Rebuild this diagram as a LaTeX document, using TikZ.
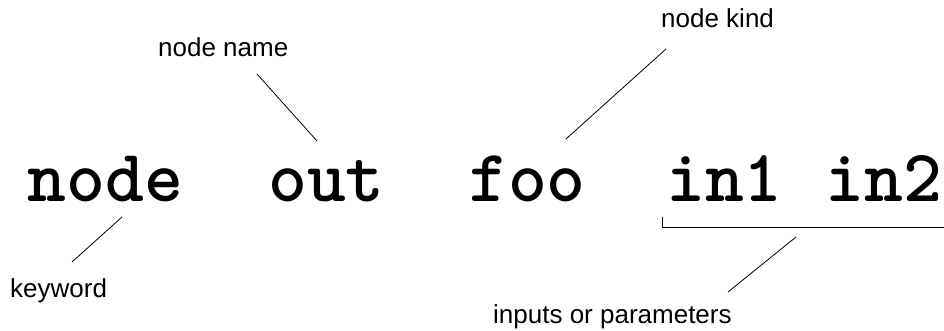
\documentclass[tikz,border=0pt]{standalone}
\usepackage{fontspec}
\newfontfamily\labelfont{Liberation Sans}

\tikzset{
  code/.style={inner sep=0pt,anchor=base,font=\fontsize{74}{74}\selectfont\ttfamily\bfseries},
  note/.style={inner sep=0pt,anchor=base west,font=\fontsize{26}{26}\selectfont\labelfont},
  pointer/.style={line width=0.8pt}
}

\begin{document}
\begin{tikzpicture}[x=1pt,y=1pt]
	\useasboundingbox (0,0) rectangle (944,330);
	% the statement
	\node[code] (kwnode) at (105.5,129) {node};
	\node[code] (outname) at (326.5,129) {out};
	\node[code] (kindfoo) at (527.5,129) {foo};
	\node[code] (inone) at (724.5,129) {in1};
	\node[code] (intwo) at (884,129) {in2};
	% labels
	\node[note] (lblname) at (158,273) {node name};
	\node[note] (lblkind) at (661,302) {node kind};
	\node[note] (lblkw) at (10,33) {keyword};
	\node[note] (lblin) at (493,7) {inputs or parameters};
	% pointer ends
	\coordinate (kwlow) at (72,68);
	\coordinate (kwhigh) at (122,113);
	\coordinate (namehigh) at (257,256);
	\coordinate (namelow) at (317,189);
	\coordinate (kindlow) at (566,191);
	\coordinate (kindhigh) at (666,281);
	\coordinate (inlow) at (728,38);
	\coordinate (inhigh) at (796,93);
	\coordinate (bracetop) at (662,113);
	\coordinate (bracecorner) at (662,103);
	\coordinate (braceend) at (944,103);
	% pointers
	\draw[pointer] (kwlow) -- (kwhigh);
	\draw[pointer] (namehigh) -- (namelow);
	\draw[pointer] (kindlow) -- (kindhigh);
	\draw[pointer] (inlow) -- (inhigh);
	\draw[pointer] (bracetop) -- (bracecorner) -- (braceend);
\end{tikzpicture}
\end{document}
